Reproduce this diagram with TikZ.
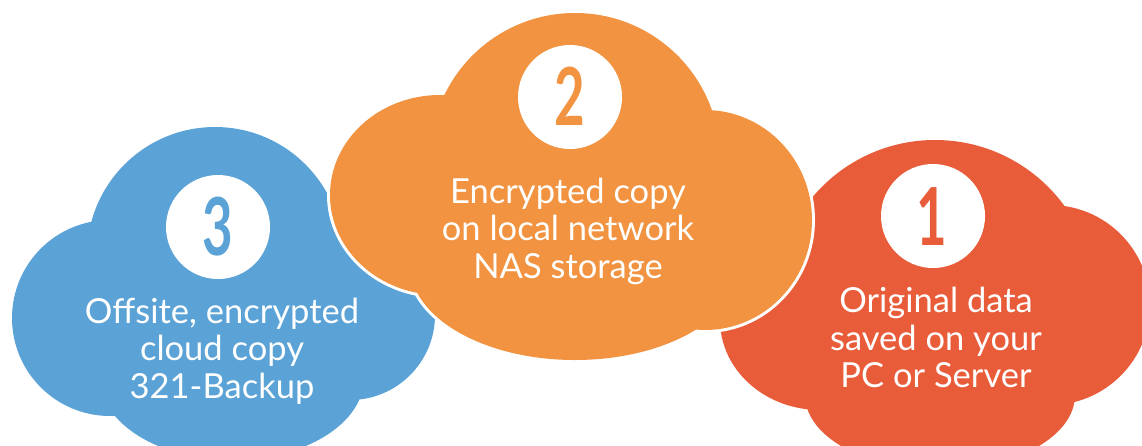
\documentclass[tikz,border=0pt]{standalone}
\usepackage{fontspec}
\setmainfont{Lato}
\usepackage{graphicx}
\definecolor{cblue}{RGB}{91,163,214}
\definecolor{corange}{RGB}{241,147,64}
\definecolor{cred}{RGB}{233,92,58}
\newcommand{\lobe}[4]{(#1,#2) ellipse [x radius=#3pt, y radius=#4pt]}
\begin{document}
\begin{tikzpicture}[x=1pt,y=-1pt,
  txt/.style={text=white,font=\fontsize{34.5}{38}\selectfont,anchor=base,inner sep=0pt},
  badge/.style={circle,fill=white,minimum size=104pt,inner sep=0pt},
  digit/.style={anchor=base,inner sep=0pt,font=\fontsize{80}{80}\selectfont\bfseries}]
\useasboundingbox (0,0) rectangle (1142,445);
\clip (0,0) rectangle (1142,445);
% blue cloud
\fill[cblue] \lobe{215}{255}{128}{128} \lobe{110}{318}{98}{98}
  \lobe{232}{378}{132}{82} \lobe{350}{315}{85}{85} \lobe{230}{310}{140}{90};
% red cloud
\fill[cred] \lobe{935}{300}{160}{160} \lobe{1050}{305}{100}{100}
  \lobe{940}{395}{135}{75} \lobe{820}{320}{100}{90} \lobe{935}{310}{140}{90};
% orange cloud with white outline
\draw[white,line width=6pt] \lobe{575}{158}{145}{145} \lobe{440}{195}{110}{100}
  \lobe{575}{265}{165}{95} \lobe{705}{220}{107}{110};
\fill[corange] \lobe{575}{158}{145}{145} \lobe{440}{195}{110}{100}
  \lobe{575}{265}{165}{95} \lobe{705}{220}{107}{110} \lobe{570}{215}{170}{100};
% badges
\node[badge] (b3) at (218,227) {};
\node[digit,text=cblue] (d3) at (218,255) {\scalebox{0.66}[1]{3}};
\node[badge] (b2) at (570,97) {};
\node[digit,text=corange] (d2) at (570,125) {\scalebox{0.66}[1]{2}};
\node[badge] (b1) at (933,216) {};
\node[digit,text=cred] (d1) at (932,245) {\scalebox{0.66}[1]{1}};
% texts
\node[txt] (t3a) at (222,323) {Offsite, encrypted};
\node[txt] (t3b) at (222,360) {cloud copy};
\node[txt] (t3c) at (222,398) {321-Backup};
\node[txt] (t2a) at (568,203) {Encrypted copy};
\node[txt] (t2b) at (568,240) {on local network};
\node[txt] (t2c) at (568,278) {NAS storage};
\node[txt] (t1a) at (936,312) {Original data};
\node[txt] (t1b) at (936,350) {saved on your};
\node[txt] (t1c) at (936,387) {PC or Server};
\end{tikzpicture}
\end{document}
